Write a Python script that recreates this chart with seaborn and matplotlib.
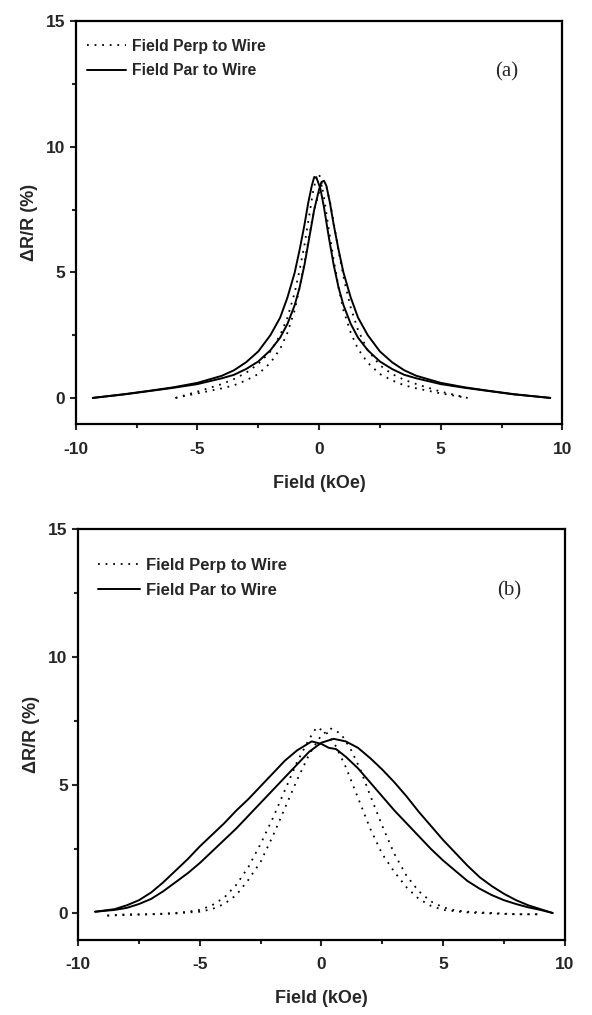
import numpy as np
import pandas as pd
import matplotlib
matplotlib.use("Agg")
import matplotlib.pyplot as plt
from matplotlib.ticker import MultipleLocator, AutoMinorLocator
import seaborn as sns

sns.set_theme(style="ticks")
plt.rcParams["font.family"] = ["Liberation Sans", "DejaVu Sans"]
plt.rcParams["axes.unicode_minus"] = False

# ---- panel (a) ----
a_par1_x = [-9.3, -8, -7, -6, -5, -4, -3.5, -3, -2.5, -2, -1.6, -1.3, -1.0, -0.8, -0.6, -0.45, -0.3, -0.2,
            -0.1, 0.05, 0.2, 0.4, 0.6, 0.8, 1.0, 1.3, 1.6, 2.0, 2.5, 3, 3.5, 4, 5, 6, 7, 8, 9.5]
a_par1_y = [0.0, 0.15, 0.28, 0.42, 0.6, 0.88, 1.1, 1.42, 1.85, 2.5, 3.2, 4.0, 5.0, 5.9, 6.9, 7.75, 8.45, 8.8,
            8.75, 8.35, 7.6, 6.4, 5.3, 4.4, 3.7, 2.95, 2.4, 1.9, 1.45, 1.15, 0.92, 0.78, 0.55, 0.4, 0.27, 0.14, 0.0]
a_par2_x = [-9.3, -8, -7, -6, -5, -4, -3.5, -3, -2.5, -2, -1.6, -1.3, -1.0, -0.8, -0.6, -0.4, -0.2, 0, 0.1,
            0.2, 0.3, 0.45, 0.6, 0.8, 1.0, 1.3, 1.6, 2.0, 2.5, 3, 3.5, 4, 5, 6, 7, 8, 9.5]
a_par2_y = [0.0, 0.14, 0.27, 0.4, 0.55, 0.78, 0.92, 1.15, 1.45, 1.9, 2.4, 2.95, 3.7, 4.4, 5.3, 6.4, 7.5, 8.3, 8.6,
            8.65, 8.45, 7.75, 6.9, 5.9, 5.0, 4.0, 3.2, 2.5, 1.85, 1.42, 1.1, 0.88, 0.6, 0.42, 0.28, 0.15, 0.0]
a_perp1_x = [-5.9, -5, -4, -3.5, -3, -2.5, -2, -1.6, -1.3, -1.0, -0.8, -0.6, -0.4, -0.25, -0.1, -0.05, 0.05,
             0.2, 0.4, 0.6, 0.8, 1.0, 1.3, 1.6, 2.0, 2.5, 3, 3.5, 4, 5, 6.1]
a_perp1_y = [0.0, 0.25, 0.55, 0.75, 1.0, 1.35, 1.85, 2.5, 3.2, 4.2, 5.1, 6.1, 7.3, 8.2, 8.85, 8.95, 8.8,
             8.0, 6.7, 5.5, 4.4, 3.5, 2.6, 1.95, 1.4, 0.95, 0.7, 0.5, 0.38, 0.18, 0.0]
a_perp2_x = [-5.9, -5, -4, -3.5, -3, -2.5, -2, -1.6, -1.3, -1.0, -0.8, -0.6, -0.4, -0.2, 0, 0.1, 0.2, 0.3,
             0.45, 0.65, 0.85, 1.05, 1.3, 1.6, 2.0, 2.5, 3, 3.5, 4, 5, 6.1]
a_perp2_y = [0.0, 0.18, 0.38, 0.5, 0.7, 0.95, 1.4, 1.95, 2.6, 3.5, 4.4, 5.4, 6.5, 7.5, 8.2, 8.45, 8.5, 8.4,
             7.8, 6.7, 5.6, 4.6, 3.6, 2.7, 1.9, 1.3, 0.95, 0.72, 0.55, 0.25, 0.0]

# ---- panel (b) ----
b_par1_x = [-9.3, -8.5, -8, -7.5, -7, -6.5, -6, -5.5, -5, -4.5, -4, -3.5, -3, -2.5, -2, -1.5, -1, -0.4, 0,
            0.3, 0.6, 1, 1.5, 2, 2.5, 3, 3.5, 4, 4.5, 5, 5.5, 6, 6.5, 7, 7.5, 8, 8.5, 9, 9.5]
b_par1_y = [0.05, 0.15, 0.3, 0.5, 0.8, 1.2, 1.65, 2.1, 2.6, 3.05, 3.5, 4.0, 4.45, 4.95, 5.45, 5.95, 6.35, 6.7, 6.6,
            6.45, 6.4, 6.1, 5.65, 5.1, 4.55, 4.0, 3.5, 3.0, 2.5, 2.05, 1.65, 1.25, 0.95, 0.7, 0.5, 0.35, 0.22, 0.12, 0.0]
b_par2_x = [-9.3, -8.5, -8, -7.5, -7, -6.5, -6, -5.5, -5, -4.5, -4, -3.5, -3, -2.5, -2, -1.5, -1, -0.5, 0,
            0.5, 1, 1.5, 2, 2.5, 3, 3.5, 4, 4.5, 5, 5.5, 6, 6.5, 7, 7.5, 8, 8.5, 9, 9.5]
b_par2_y = [0.05, 0.12, 0.2, 0.35, 0.55, 0.85, 1.2, 1.55, 1.95, 2.4, 2.85, 3.3, 3.8, 4.3, 4.8, 5.3, 5.8, 6.3, 6.65,
            6.8, 6.7, 6.45, 6.05, 5.6, 5.1, 4.55, 3.95, 3.4, 2.85, 2.35, 1.85, 1.4, 1.05, 0.75, 0.5, 0.3, 0.15, 0.0]
b_perp1_x = [-8.8, -8, -7, -6, -5.5, -5, -4.5, -4, -3.5, -3, -2.5, -2, -1.5, -1, -0.5, -0.2, 0.2, 0.6, 1,
             1.5, 2, 2.5, 3, 3.5, 4, 4.5, 5, 6, 7, 8, 9]
b_perp1_y = [-0.1, -0.05, -0.05, 0.0, 0.05, 0.12, 0.3, 0.6, 1.1, 1.8, 2.7, 3.7, 4.8, 5.9, 6.8, 7.25, 7.05, 6.5, 5.7,
             4.5, 3.3, 2.3, 1.6, 1.0, 0.55, 0.28, 0.12, 0.02, -0.02, -0.05, -0.05]
b_perp2_x = [-8.8, -8, -7, -6, -5.5, -5, -4.5, -4, -3.5, -3, -2.5, -2, -1.5, -1, -0.5, 0, 0.4, 0.8, 1.2,
             1.6, 2, 2.5, 3, 3.5, 4, 4.5, 5, 5.5, 6, 7, 8, 9]
b_perp2_y = [-0.1, -0.08, -0.05, -0.02, 0.02, 0.05, 0.15, 0.35, 0.7, 1.3, 2.0, 3.0, 4.1, 5.2, 6.2, 6.95, 7.2, 7.0, 6.4,
             5.6, 4.6, 3.4, 2.3, 1.45, 0.85, 0.45, 0.22, 0.1, 0.05, 0.0, -0.05, -0.05]

perp_label = "Field Perp to Wire"
par_label = "Field Par to Wire"
dots = (0, (1, 3.2))

fig = plt.figure(figsize=(5.92, 10.15), dpi=100)
ax_a = fig.add_axes([0.128, 0.582, 0.822, 0.397])
ax_b = fig.add_axes([0.132, 0.074, 0.822, 0.405])


def draw_panel(ax, perp, par, tag, leg_fs, tag_y, leg_x, leg_y):
    for i, (x, y) in enumerate(perp):
        sns.lineplot(x=x, y=y, ax=ax, sort=False, estimator=None, color="black",
                     linestyle=dots, linewidth=1.3, label=perp_label if i == 0 else None)
    for i, (x, y) in enumerate(par):
        sns.lineplot(x=x, y=y, ax=ax, sort=False, estimator=None, color="black",
                     linestyle="-", linewidth=1.4, label=par_label if i == 0 else None)
    ax.set_xlim(-10, 10)
    ax.set_ylim(-1.05, 15)
    ax.xaxis.set_major_locator(MultipleLocator(5))
    ax.yaxis.set_major_locator(MultipleLocator(5))
    ax.xaxis.set_minor_locator(AutoMinorLocator(2))
    ax.yaxis.set_minor_locator(AutoMinorLocator(2))
    ax.tick_params(which="major", direction="out", length=4.5, width=1.5, labelsize=12.5,
                   top=False, right=False)
    ax.tick_params(axis="x", which="major", pad=8)
    ax.tick_params(axis="y", which="major", pad=3)
    ax.tick_params(which="minor", direction="out", length=3, width=1.5, top=False, right=False)
    for lab in ax.get_xticklabels() + ax.get_yticklabels():
        lab.set_fontweight("bold")
    for sp in ax.spines.values():
        sp.set_visible(True)
        sp.set_linewidth(1.6)
        sp.set_color("black")
    ax.set_xlabel("Field (kOe)", fontsize=13, fontweight="bold", labelpad=13)
    ax.set_ylabel("ΔR/R (%)", fontsize=13, fontweight="bold", labelpad=6)
    ax.legend(loc="upper left", bbox_to_anchor=(leg_x, leg_y), frameon=False,
              handlelength=2.5, handletextpad=0.35, labelspacing=0.6,
              borderaxespad=0.0, borderpad=0.0,
              prop={"weight": "bold", "size": leg_fs})
    ax.text(0.885, tag_y, tag, transform=ax.transAxes, fontsize=15,
            family="Liberation Serif", ha="center", va="center")


draw_panel(ax_a, [(a_perp1_x, a_perp1_y), (a_perp2_x, a_perp2_y)],
           [(a_par1_x, a_par1_y), (a_par2_x, a_par2_y)], "(a)", 11.3, 0.875, 0.023, 0.957)
draw_panel(ax_b, [(b_perp1_x, b_perp1_y), (b_perp2_x, b_perp2_y)],
           [(b_par1_x, b_par1_y), (b_par2_x, b_par2_y)], "(b)", 12.0, 0.85, 0.041, 0.93)

fig.savefig("out.png", dpi=100, facecolor="white")
